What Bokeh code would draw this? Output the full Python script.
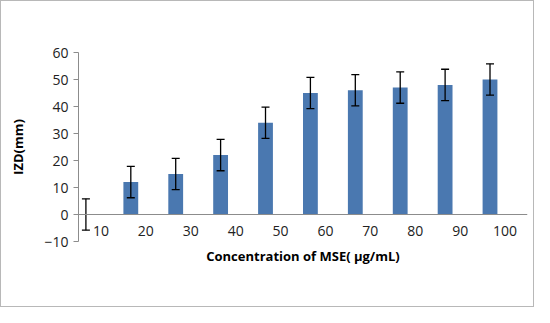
from bokeh.plotting import figure
from bokeh.models import ColumnDataSource, FixedTicker, Title
from bokeh.transform import dodge
from bokeh.embed import file_html
from bokeh.resources import INLINE

categories = ["10", "20", "30", "40", "50", "60", "70", "80", "90", "100"]
izd_values = [0, 12, 15, 22, 34, 45, 46, 47, 48, 50]
izd_errors = [5.8, 5.8, 5.8, 5.8, 5.8, 5.8, 5.8, 5.8, 5.8, 5.8]
y_ticks = [-10, 0, 10, 20, 30, 40, 50, 60]

src = ColumnDataSource(dict(
    cat=categories,
    val=izd_values,
    upper=[v + e for v, e in zip(izd_values, izd_errors)],
    lower=[v - e for v, e in zip(izd_values, izd_errors)],
))

FONT = "Open Sans"

p = figure(x_range=categories, y_range=(-10, 60), width=534, height=307,
           output_backend="svg", toolbar_location=None,
           min_border_left=77, min_border_right=8, min_border_top=51, min_border_bottom=67)
p.styles = {"border": "1.5px solid #b8b8b8", "box-sizing": "border-box"}
p.outline_line_color = None
p.xgrid.grid_line_color = None
p.ygrid.grid_line_color = None
p.x_range.range_padding = 0
p.background_fill_color = "white"

xb = dodge("cat", -0.335, range=p.x_range)
p.vbar(x=xb, top="val", bottom=0, width=0.33, source=src,
       fill_color="#4a78b0", line_color=None)
p.segment(x0=xb, y0="lower", x1=xb, y1="upper", source=src,
          line_color="black", line_width=1.3)
p.scatter(x=xb, y="upper", source=src, marker="dash", size=8,
          line_color="black", line_width=1.3)
p.scatter(x=xb, y="lower", source=src, marker="dash", size=8,
          line_color="black", line_width=1.3)

# y axis
ya = p.yaxis[0]
ya.ticker = FixedTicker(ticks=y_ticks)
ya.axis_line_color = "#8c8c8c"
ya.major_tick_line_color = "#8c8c8c"
ya.major_tick_out = 5
ya.major_tick_in = 0
ya.minor_tick_line_color = None
ya.major_label_text_font = FONT
ya.major_label_text_font_size = "14px"
ya.major_label_text_color = "#222222"
ya.major_label_standoff = 5
ya.axis_label = "IZD(mm)"
ya.axis_label_text_font = FONT
ya.axis_label_text_font_size = "13px"
ya.axis_label_text_font_style = "bold"
ya.axis_label_text_color = "black"
ya.axis_label_standoff = 14

# x axis at y = 0
xa = p.xaxis[0]
xa.fixed_location = 0
xa.axis_line_color = "#8c8c8c"
xa.major_tick_line_color = None
xa.minor_tick_line_color = None
xa.major_tick_out = 0
xa.major_tick_in = 0
xa.major_label_text_font = FONT
xa.major_label_text_font_size = "14px"
xa.major_label_text_color = "#222222"
xa.major_label_standoff = 11

xtitle = Title(text="Concentration of MSE( \u00b5g/mL)", align="center",
               text_font=FONT, text_font_size="13px", text_font_style="bold",
               text_color="black", standoff=7)
p.add_layout(xtitle, "below")

open("out.html", "w").write(file_html(p, INLINE))
